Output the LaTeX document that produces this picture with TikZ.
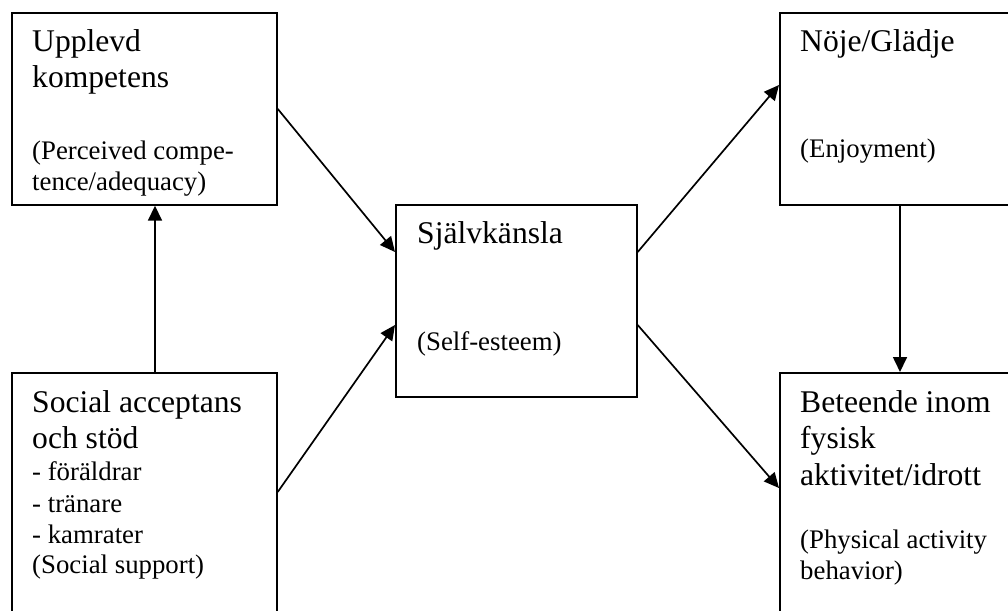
\documentclass[tikz,border=0pt]{standalone}
\usepackage{fontspec}
\setmainfont{Liberation Serif}
\usetikzlibrary{arrows.meta,calc}
\tikzset{
  box/.style={draw, line width=1.7pt, inner sep=0pt, anchor=north west},
  big/.style={anchor=base west, inner sep=0pt, font=\fontsize{31.6}{36}\selectfont},
  small/.style={anchor=base west, inner sep=0pt, font=\fontsize{26.8}{31}\selectfont},
  arr/.style={line width=1.7pt, -{Triangle[length=15pt,width=14pt]}}
}
\begin{document}
\begin{tikzpicture}[x=1pt,y=-1pt]
\useasboundingbox (0,0) rectangle (1008,610);
\clip (0,0) rectangle (1008,610);
% boxes
\node[box, minimum width=265pt, minimum height=192pt] (b1) at (11,12) {};
\node[box, minimum width=265pt, minimum height=270pt] (b2) at (11,372) {};
\node[box, minimum width=241pt, minimum height=192pt] (c) at (395,204) {};
\node[box, minimum width=260pt, minimum height=192pt] (n) at (779,12) {};
\node[box, minimum width=260pt, minimum height=270pt] (p) at (779,372) {};
% texts
\node[big] (t1a) at (32,52) {Upplevd};
\node[big] (t1b) at (32,87) {kompetens};
\node[small] (t1c) at (32,159) {(Perceived compe-};
\node[small] (t1d) at (32,190) {tence/adequacy)};
\node[big] (t2a) at (32,412) {Social acceptans};
\node[big] (t2b) at (32,448) {och stöd};
\node[small] (t2c) at (32,480) {- föräldrar};
\node[small] (t2d) at (32,512) {- tränare};
\node[small] (t2e) at (32,543) {- kamrater};
\node[small] (t2f) at (32,573) {(Social support)};
\node[big] (tca) at (417,243) {Självkänsla};
\node[small] (tcb) at (417,350) {(Self-esteem)};
\node[big] (tna) at (800,52) {Nöje/Glädje};
\node[small] (tnb) at (800,157) {(Enjoyment)};
\node[big] (tpa) at (800,412) {Beteende inom};
\node[big] (tpb) at (800,448) {fysisk};
\node[big] (tpc) at (800,485) {aktivitet/idrott};
\node[small] (tpd) at (800,548) {(Physical activity};
\node[small] (tpe) at (800,579) {behavior)};
% connectors
\draw[arr] ($(b2.north west)+(144,0)$) -- ($(b1.south west)+(144,0)$);
\draw[arr] (b1.east) -- ($(c.north west)+(0,48)$);
\draw[arr] ($(b2.north east)+(0,120)$) -- ($(c.north west)+(0,121)$);
\draw[arr] ($(c.north east)+(0,48)$) -- ($(n.north west)+(0,73)$);
\draw[arr] ($(c.north east)+(0,121)$) -- ($(p.north west)+(0,116)$);
\draw[arr] ($(n.south west)+(121,0)$) -- ($(p.north west)+(121,0)$);
\end{tikzpicture}
\end{document}
